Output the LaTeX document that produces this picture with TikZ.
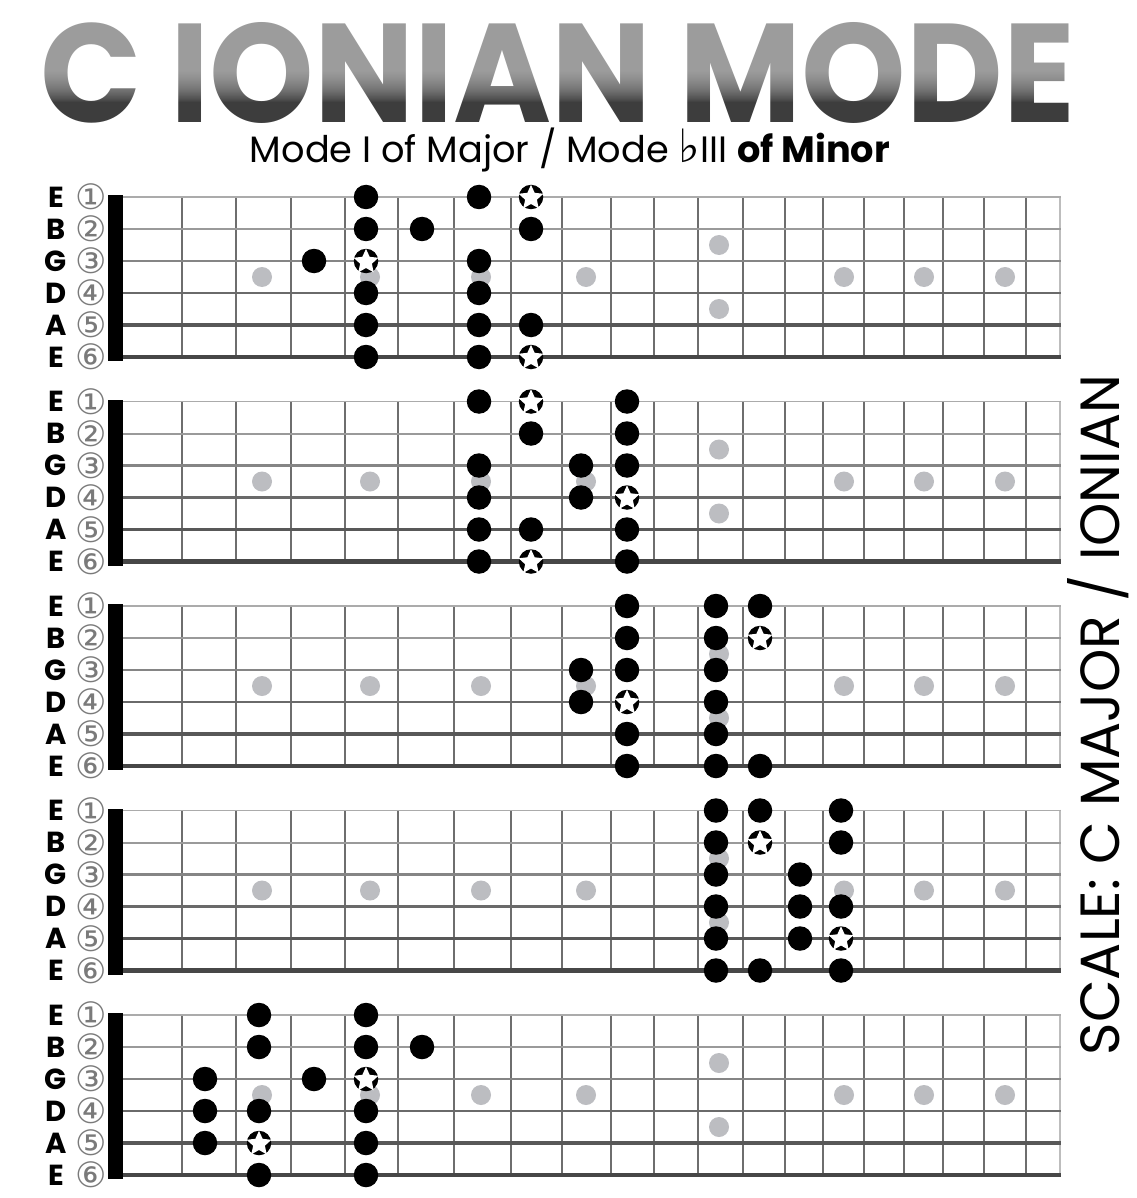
\documentclass[tikz,border=0pt]{standalone}
\usepackage{fontspec}
\usepackage{graphicx}
\usetikzlibrary{shapes.geometric}
\setmainfont{DejaVu Sans}
\newfontfamily\popfont{Poppins}
\newfontfamily\symfont{DejaVu Sans}
\definecolor{inlaygray}{HTML}{BCBDC1}
\definecolor{fretgray}{HTML}{6E6E6E}
\definecolor{titlegray}{HTML}{9C9C9C}
\definecolor{burngray}{HTML}{828282}
\definecolor{edgegray}{HTML}{BDBDBD}
\definecolor{numgray}{HTML}{7A7A7A}
\definecolor{strA}{HTML}{ABABAB}
\definecolor{strB}{HTML}{9A9A9A}
\definecolor{strC}{HTML}{858585}
\definecolor{strD}{HTML}{6A6A6A}
\definecolor{strE}{HTML}{585858}
\definecolor{strF}{HTML}{474747}
\tikzset{
  notedot/.style={circle, fill=black, minimum size=24.5pt, inner sep=0pt},
  inlaydot/.style={circle, fill=inlaygray, minimum size=20pt, inner sep=0pt},
  rootstar/.style={star, star points=5, star point ratio=2.1, fill=white, minimum size=26pt, inner sep=0pt, outer sep=0pt},
  strletter/.style={font=\popfont\bfseries\fontsize{29}{29}\selectfont, inner sep=0pt},
  strnum/.style={font=\symfont\fontsize{35}{35}\selectfont, text=numgray, inner sep=0pt},
  fretline/.style={draw=fretgray, line width=2.2pt},
}
\newcommand\fretboard[3]{%
  \pgfmathsetmacro\boardy{197+204.5*(#1-1)}
  % inlays
  \foreach \x in {262,370,481,586,844,924,1005}
    \node[inlaydot] (inl-#1-\x) at (\x,{\boardy+80}) {};
  \node[inlaydot] (inl-#1-12a) at (719,{\boardy+48}) {};
  \node[inlaydot] (inl-#1-12b) at (719,{\boardy+112}) {};
  % frets
  \foreach \x in {182,236,291,345,398,454,511,562,611,654,698,743,785,823,864,904,943,984,1026}
    \draw[fretline] (\x,\boardy) -- (\x,{\boardy+160});
  \draw[edgegray, line width=2.5pt] (1060,{\boardy-1}) -- (1060,{\boardy+161});
  % strings
  \foreach \s/\c/\w in {1/strA/1.6,2/strB/2,3/strC/2.4,4/strD/2.8,5/strE/3.3,6/strF/4.2}
    \draw[draw=\c, line width=\w pt] (123,{\boardy+32*(\s-1)}) -- (1061,{\boardy+32*(\s-1)});
  % nut
  \fill[black] (108,{\boardy-2}) rectangle (123,{\boardy+164});
  % labels
  \foreach \s/\l/\n in {1/E/①,2/B/②,3/G/③,4/D/④,5/A/⑤,6/E/⑥}{
    \node[strletter] (lab-#1-\s) at (56,{\boardy+32*(\s-1)}) {\l};
    \node[strnum] (num-#1-\s) at (91,{\boardy+32*(\s-1)}) {\n};
  }
  % notes
  \foreach \s/\f in {#2}{
    \pgfmathsetmacro\notex{{0,150,205,259,314,366,422,479,531,581,627,676,716,760,800,841}[\f]}
    \node[notedot] (n-#1-\s-\f) at (\notex,{\boardy+32*(\s-1)}) {};
  }
  \foreach \s/\f in {#3}{
    \pgfmathsetmacro\notex{{0,150,205,259,314,366,422,479,531,581,627,676,716,760,800,841}[\f]}
    \node[notedot] (r-#1-\s-\f) at (\notex,{\boardy+32*(\s-1)}) {};
    \node[rootstar] (rs-#1-\s-\f) at (\notex,{\boardy+32*(\s-1)+0.8}) {};
  }
}
\begin{document}
\begin{tikzpicture}[x=1pt,y=-1pt]
\fill[white] (0,0) rectangle (1136,1198);
\useasboundingbox (0,0) rectangle (1136,1198);
% title
\node[inner sep=0pt, text=titlegray] (title) at (558,73) {\resizebox{1033pt}{100pt}{\popfont\bfseries C IONIAN MODE}};
\begin{scope}[blend mode=color burn]
  \shade[top color=white, bottom color=burngray] (30,70) rectangle (1090,102);
  \fill[burngray] (30,102) rectangle (1090,128);
\end{scope}
\node[anchor=base, inner sep=0pt] (subtitle) at (570,163) {\resizebox{640pt}{!}{\popfont Mode I of Major / Mode \scalebox{1.25}{\symfont ♭}III {\bfseries of Minor}}};
\node[rotate=90, anchor=base, inner sep=0pt] (scalelabel) at (1119,715) {\resizebox{680pt}{!}{\popfont SCALE: C MAJOR / IONIAN}};
% boards
\fretboard{1}{1/5,1/7,2/5,2/6,2/8,3/4,3/7,4/5,4/7,5/5,5/7,5/8,6/5,6/7}{1/8,3/5,6/8}
\fretboard{2}{1/7,1/10,2/8,2/10,3/7,3/9,3/10,4/7,4/9,5/7,5/8,5/10,6/7,6/10}{1/8,4/10,6/8}
\fretboard{3}{1/10,1/12,1/13,2/10,2/12,3/9,3/10,3/12,4/9,4/12,5/10,5/12,6/10,6/12,6/13}{2/13,4/10}
\fretboard{4}{1/12,1/13,1/15,2/12,2/15,3/12,3/14,4/12,4/14,4/15,5/12,5/14,6/12,6/13,6/15}{2/13,5/15}
\fretboard{5}{1/3,1/5,2/3,2/5,2/6,3/2,3/4,4/2,4/3,4/5,5/2,5/5,6/3,6/5}{3/5,5/3}
\end{tikzpicture}
\end{document}
